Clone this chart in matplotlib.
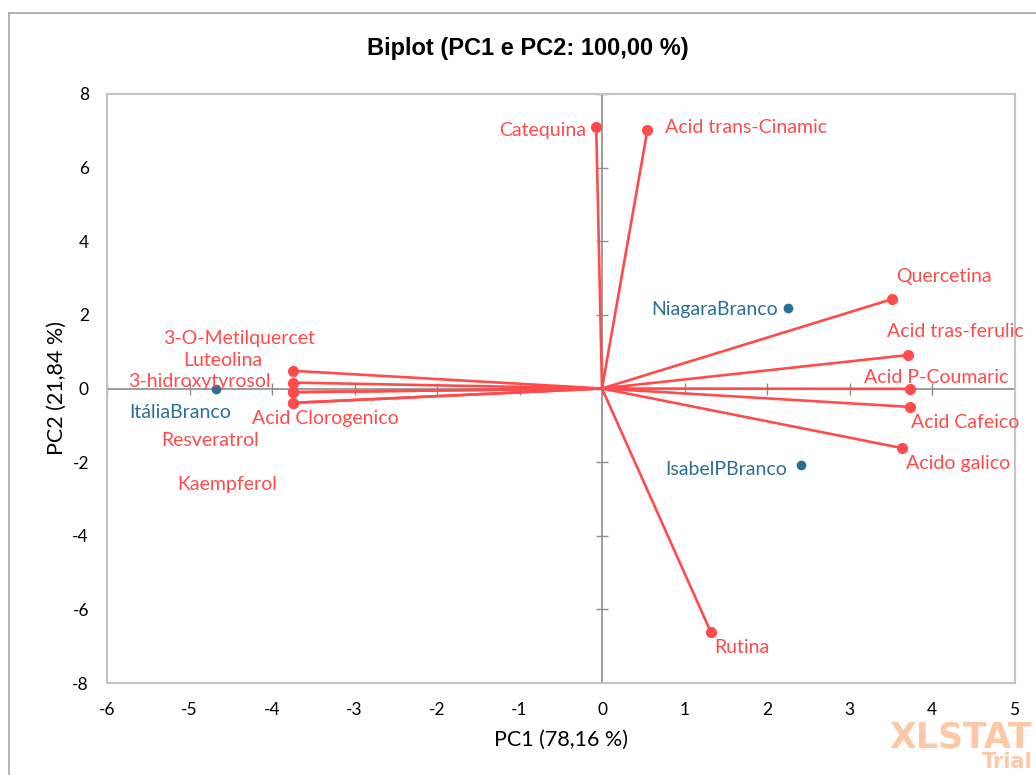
import matplotlib
matplotlib.use("Agg")
import matplotlib.pyplot as plt
from matplotlib.lines import Line2D

plt.rcParams["axes.unicode_minus"] = False

# Variable loadings (PC1, PC2)
variables = ["Catequina", "Acid trans-Cinamic", "Quercetina", "Acid tras-ferulic",
             "Acid P-Coumaric", "Acid Cafeico", "Acido galico", "Rutina",
             "3-O-Metilquercet", "Luteolina", "3-hidroxytyrosol", "Acid Clorogenico",
             "Resveratrol", "Kaempferol"]
var_pc1 = [-0.07, 0.55, 3.52, 3.71, 3.73, 3.73, 3.64, 1.32,
           -3.74, -3.74, -3.74, -3.74, -3.74, -3.74]
var_pc2 = [7.11, 7.02, 2.43, 0.91, -0.01, -0.50, -1.62, -6.62,
           0.48, 0.16, -0.10, -0.39, -0.10, -0.39]

# Observations (PC1, PC2)
observations = ["ItáliaBranco", "NiagaraBranco", "IsabelPBranco"]
obs_pc1 = [-4.68, 2.25, 2.41]
obs_pc2 = [-0.01, 2.19, -2.08]

x_ticks = [-6, -5, -4, -3, -2, -1, 0, 1, 2, 3, 4, 5]
y_ticks = [-8, -6, -4, -2, 0, 2, 4, 6, 8]

title = "Biplot (PC1 e PC2: 100,00 %)"
x_label = "PC1 (78,16 %)"
y_label = "PC2 (21,84 %)"

# Label placement: (dx, dy) in points, horizontal alignment
var_label_pos = {
    "Catequina": (-7, -3, "right"),
    "Acid trans-Cinamic": (13, 1.5, "left"),
    "Quercetina": (37, 16, "center"),
    "Acid tras-ferulic": (34, 17, "center"),
    "Acid P-Coumaric": (19, 8, "center"),
    "Acid Cafeico": (40, -11, "center"),
    "Acido galico": (40, -11, "center"),
    "Rutina": (22, -11, "center"),
    "3-O-Metilquercet": (-39, 23, "center"),
    "Luteolina": (-51, 16, "center"),
    "3-hidroxytyrosol": (-68, 8, "center"),
    "Acid Clorogenico": (23, -11, "center"),
    "Resveratrol": (-60, -35, "center"),
    "Kaempferol": (-48, -59, "center"),
}
obs_label_pos = {
    "ItáliaBranco": (-26, -17, "center"),
    "NiagaraBranco": (-7, -1, "right"),
    "IsabelPBranco": (-54, -3, "center"),
}

RED = "#FF4B4B"
BLUE = "#2B6F93"
AXIS_GRAY = "#8C8C8C"
FRAME_GRAY = "#C4C4C4"
LABEL_FONT = "Lato"

fig = plt.figure(figsize=(10.36, 7.75), dpi=100)
W, H = 1036, 775
ax = fig.add_axes([107 / W, 1 - 683 / H, (1014.5 - 107) / W, (683 - 94) / H])

# Outer chart border (top and left edges visible)
fig.add_artist(Line2D([9 / W, 9 / W], [0, 1 - 13 / H], color="#A6A6A6", lw=1.2,
                      transform=fig.transFigure))
fig.add_artist(Line2D([9 / W, 1], [1 - 13 / H, 1 - 13 / H], color="#A6A6A6", lw=1.2,
                      transform=fig.transFigure))

ax.set_xlim(-6, 5)
ax.set_ylim(-8, 8)
for s in ax.spines.values():
    s.set_color(FRAME_GRAY)
    s.set_linewidth(1.5)
ax.set_xticks(x_ticks)
ax.set_yticks(y_ticks)
ax.tick_params(length=0, labelsize=12.5, colors="black")
ax.tick_params(axis="x", pad=14)
ax.tick_params(axis="y", pad=13)
for lab in ax.get_xticklabels() + ax.get_yticklabels():
    lab.set_fontfamily(LABEL_FONT)

# Zero axes with crossing tick marks
ax.axhline(0, color=AXIS_GRAY, lw=1.2, zorder=1)
ax.axvline(0, color=AXIS_GRAY, lw=1.2, zorder=1)
ax.plot(x_ticks, [0] * len(x_ticks), linestyle="none", marker="|", markersize=8,
        markeredgewidth=1.0, color=AXIS_GRAY, zorder=1)
ax.plot([0] * len(y_ticks), y_ticks, linestyle="none", marker="_", markersize=8,
        markeredgewidth=1.0, color=AXIS_GRAY, zorder=1)

# Variable vectors
for name, x, y in zip(variables, var_pc1, var_pc2):
    ax.plot([0, x], [0, y], color=RED, lw=1.9, solid_capstyle="round", zorder=3)
    ax.plot([x], [y], marker="o", markersize=7, color=RED, zorder=4)
    dx, dy, ha = var_label_pos[name]
    ax.annotate(name, (x, y), xytext=(dx, dy), textcoords="offset points",
                ha=ha, va="center", color=RED, fontsize=14, fontfamily=LABEL_FONT,
                zorder=5)

# Observations
ax.plot(obs_pc1, obs_pc2, linestyle="none", marker="o", markersize=6, color=BLUE, zorder=4)
for name, x, y in zip(observations, obs_pc1, obs_pc2):
    dx, dy, ha = obs_label_pos[name]
    ax.annotate(name, (x, y), xytext=(dx, dy), textcoords="offset points",
                ha=ha, va="center", color=BLUE, fontsize=14, fontfamily=LABEL_FONT,
                zorder=5)

fig.text(528 / W, 1 - 48 / H, title, ha="center", va="center", fontsize=17,
         fontweight="bold", fontfamily="Liberation Sans")
fig.text(561 / W, 1 - 740 / H, x_label, ha="center", va="center", fontsize=15.5,
         fontfamily=LABEL_FONT)
fig.text(57 / W, 1 - 388 / H, y_label, ha="center", va="center", fontsize=15.5,
         rotation=90, fontfamily=LABEL_FONT)

# Trial watermark
fig.text(1032 / W, 1 - 737 / H, "XLSTAT", ha="right", va="center", fontsize=25,
         fontweight="bold", color="#FCC8A6", fontfamily="DejaVu Sans")
fig.text(1032 / W, 1 - 762 / H, "Trial", ha="right", va="center", fontsize=15,
         fontweight="bold", color="#FCC8A6", fontfamily="DejaVu Sans")

fig.savefig("out.png", dpi=100)
